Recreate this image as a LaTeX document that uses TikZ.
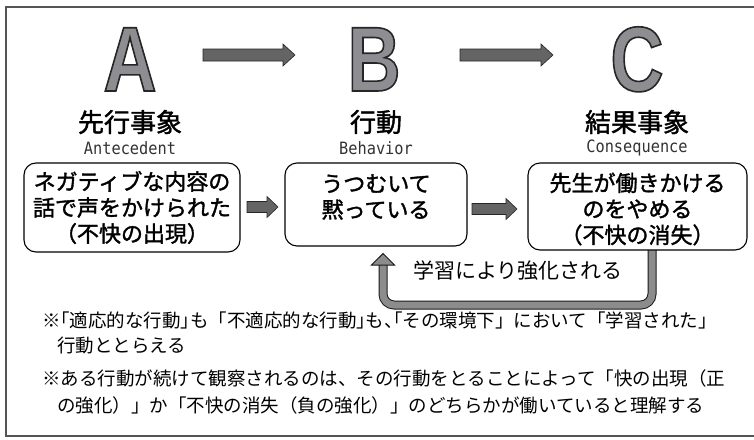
\documentclass[tikz,border=0pt]{standalone}
\usepackage{fontspec}
\usetikzlibrary{calc}
\newfontfamily\jp{Noto Sans CJK JP}
\newfontfamily\jpmed[FakeBold=1.6]{Noto Sans CJK JP}
\newfontfamily\letterfont[FakeStretch=0.8]{Liberation Sans}
\newfontfamily\monofont[FakeStretch=0.9]{DejaVu Sans Mono}
\definecolor{arrowgray}{HTML}{646464}
\definecolor{bandgray}{HTML}{8C8C8C}
\definecolor{framegray}{HTML}{555555}
\newcommand\outlined[1]{\special{pdf:literal direct 0.557 0.557 0.573 rg 0.15 0.15 0.15 RG 2 Tr 1.6 w}#1\special{pdf:literal direct 0 Tr 0 g 0 G}}
\newcommand\hlb{\makebox[0.5em][r]{「}}
\newcommand\hrb{\makebox[0.5em][l]{」}}
\newcommand\fatarrow[5]{%
  \path[fat] let \p1=(#1), \p2=(#2) in
    (\x1,\y1-#3) -- (\x2-#5,\y1-#3) -- (\x2-#5,\y1-#4) -- (\x2,\y1)
    -- (\x2-#5,\y1+#4) -- (\x2-#5,\y1+#3) -- (\x1,\y1+#3) -- cycle;}
\begin{document}
\begin{tikzpicture}[x=1pt,y=-1pt,
  letter/.style={anchor=base, inner sep=0, font=\letterfont\bfseries\fontsize{92}{92}\selectfont},
  title/.style={inner sep=0, font=\jpmed\fontsize{26}{30}\selectfont},
  subtitle/.style={inner sep=0, text=black!80, font=\monofont\fontsize{17}{20}\selectfont},
  box/.style={draw, line width=1.1pt, rounded corners=12pt, inner sep=0, fill=white},
  boxtext/.style={align=center, inner sep=0, font=\jpmed\fontsize{22}{26}\selectfont},
  fat/.style={fill=arrowgray, draw=black!85, line width=0.6pt},
  band/.style={line width=1pt, draw=black!90, double=bandgray, double distance=7pt, rounded corners=11pt},
  head/.style={fill=bandgray, draw=black!90, line width=1pt, line join=miter},
  note/.style={anchor=west, inner sep=0, font=\jp\fontsize{18.5}{22}\selectfont},
  lbl/.style={inner sep=0, font=\jp\fontsize{21}{24}\selectfont},
]
\useasboundingbox (0,0) rectangle (754,439);
\fill[white] (0,0) rectangle (754,439);
% frame
\draw[framegray, line width=1.2pt] (770,7) -- (6,7) -- (6,436) -- (770,436);

% big letters
\node[letter] (A) at (130,91) {\outlined{A}};
\node[letter] (B) at (374,91) {\outlined{B}};
\node[letter] (C) at (637,91) {\outlined{C}};
\coordinate (ab1) at (203,55); \coordinate (ab2) at (295,55);
\coordinate (bc1) at (460,55); \coordinate (bc2) at (553,55);
\fatarrow{ab1}{ab2}{6}{11}{12}
\fatarrow{bc1}{bc2}{6}{11}{12}

% titles
\node[title] (tA) at (130,122) {先行事象};
\node[title] (tB) at (376,122) {行動};
\node[title] (tC) at (637,122) {結果事象};
\node[subtitle] (sA) at (130,148) {Antecedent};
\node[subtitle] (sB) at (376,148) {Behavior};
\node[subtitle] (sC) at (637,148) {Consequence};

% feedback band (behind boxes)
\coordinate (fbx) at (652,305);
\coordinate (fbl) at (383,265);
\path (637.5,250) coordinate (b3bot);
\draw[band] (b3bot -| fbx) -- (fbx) -- (fbx -| fbl) -- (fbl);

% boxes
\node[box, minimum width=216pt, minimum height=89pt] (box1) at (132,207.5) {};
\node[boxtext] (t1) at (box1.center) {ネガティブな内容の\\話で声をかけられた\\（不快の出現）};
\node[box, minimum width=182pt, minimum height=83pt] (box2) at (376,204.5) {};
\node[boxtext] (t2) at ($(box2.center)+(0,-7.5)$) {うつむいて\\黙っている};
\node[box, minimum width=219pt, minimum height=87pt] (box3) at (637.5,206.5) {};
\node[boxtext] (t3) at ($(box3.center)+(0,2.5)$) {先生が働きかける\\のをやめる\\（不快の消失）};

% arrows between boxes
\coordinate (x1s) at (247,207); \coordinate (x1e) at (278,207);
\coordinate (x2s) at (472,209); \coordinate (x2e) at (517,209);
\fatarrow{x1s}{x1e}{5.5}{10.5}{11}
\fatarrow{x2s}{x2e}{5.5}{10.5}{11}

% feedback arrow head
\draw[head] ($(fbl)+(-11.5,0)$) -- ($(box2.south -| fbl)+(0,7)$) -- ($(fbl)+(11.5,0)$) -- cycle;
\node[lbl] (lab) at (518,271) {学習により強化される};

% notes
\node[note] (n1) at (42,320) {※\hlb{}適応的な行動\hrb{}も「不適応的な行動\hrb{}も\makebox[0.5em][l]{、}\hlb{}その環境下」において「学習された」};
\node[note] (n2) at (57,346) {行動ととらえる};
\node[note] (n3) at (42,378) {※ある行動が続けて観察されるのは、その行動をとることによって「快の出現（正};
\node[note] (n4) at (57,405) {の強化）」か「不快の消失（負の強化）」のどちらかが働いていると理解する};
\end{tikzpicture}
\end{document}
